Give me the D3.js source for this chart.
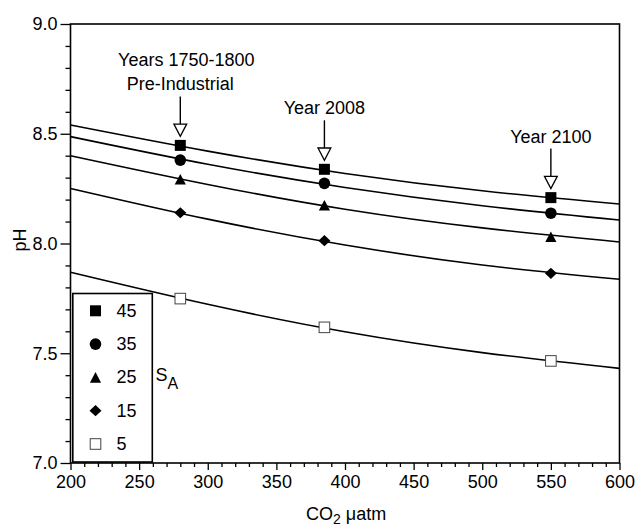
<!DOCTYPE html>
<html><head><meta charset="utf-8">
<script src="https://cdn.jsdelivr.net/npm/d3@7"></script>
<style>
body{margin:0;background:#fff}
text{font-family:"Liberation Sans",Arial,Helvetica,sans-serif;fill:#000}
</style>
</head><body><svg id="c" width="636" height="525"></svg>
<script>
// ---- data ----
const salinities = [45, 35, 25, 15, 5];
const symbolNames = ["square", "circle", "triangle", "diamond", "openSquare"];
const curveX = [200, 300, 400, 500, 600];
const curve45 = [8.540, 8.421, 8.319, 8.240, 8.180];
const curve35 = [8.487, 8.361, 8.255, 8.172, 8.107];
const curve25 = [8.400, 8.269, 8.156, 8.071, 8.007];
const curve15 = [8.251, 8.111, 7.993, 7.902, 7.837];
const curve5  = [7.869, 7.723, 7.598, 7.503, 7.431];
const markerX = [280, 385, 550];
const marker45 = [8.447, 8.338, 8.209];
const marker35 = [8.380, 8.274, 8.138];
const marker25 = [8.293, 8.174, 8.031];
const marker15 = [8.140, 8.013, 7.864];
const marker5  = [7.749, 7.618, 7.465];
const annoX = [280, 385, 550];
const annoText = [["Years 1750-1800", "Pre-Industrial"], ["Year 2008"], ["Year 2100"]];
const xTicks = [200, 250, 300, 350, 400, 450, 500, 550, 600];
const yTicks = [7.0, 7.5, 8.0, 8.5, 9.0];

const curves = [curve45, curve35, curve25, curve15, curve5];
const markers = [marker45, marker35, marker25, marker15, marker5];

// ---- layout ----
const svg = d3.select("#c");
const L = 70.5, R = 619.5, T = 24, B = 463;
const x = d3.scaleLinear().domain([200, 600]).range([L, R]);
const y = d3.scaleLinear().domain([7, 9]).range([B, T]);
const FS = 18;

// minor ticks
const xMinor = d3.range(200, 601, 10).filter(v => v % 50 !== 0);
const yMinor = d3.range(70, 91, 1).map(v => v / 10).filter(v => Math.round(v * 10) % 5 !== 0);

const gx = svg.append("g").attr("transform", `translate(0,${B})`);
gx.call(d3.axisBottom(x).tickValues(xMinor).tickSize(4).tickFormat("").tickSizeOuter(0));
gx.append("g").call(d3.axisBottom(x).tickValues(xTicks).tickSize(7).tickPadding(5).tickSizeOuter(0).tickFormat(d3.format("d")));
const gy = svg.append("g").attr("transform", `translate(${L},0)`);
gy.call(d3.axisLeft(y).tickValues(yMinor).tickSize(5).tickFormat("").tickSizeOuter(0));
gy.append("g").call(d3.axisLeft(y).tickValues(yTicks).tickSize(10).tickPadding(3).tickSizeOuter(0).tickFormat(d3.format(".1f")));
svg.selectAll(".domain").remove();
svg.selectAll(".tick line").attr("stroke", "#000").attr("stroke-width", 1.3);
svg.selectAll(".tick text").attr("font-size", FS).attr("font-family", '"Liberation Sans",Arial,sans-serif').attr("fill", "#000");

// frame
svg.append("rect").attr("x", L).attr("y", T).attr("width", R - L).attr("height", B - T)
  .attr("fill", "none").attr("stroke", "#000").attr("stroke-width", 1.6);

// curves
const line = d3.line().x((d, i) => x(curveX[i])).y(d => y(d)).curve(d3.curveNatural);
svg.append("g").selectAll("path").data(curves).join("path")
  .attr("d", d => line(d)).attr("fill", "none").attr("stroke", "#000").attr("stroke-width", 1.6);

// symbols
function drawSymbol(g, name, cx, cy) {
  if (name === "square") {
    g.append("rect").attr("x", cx - 5.5).attr("y", cy - 5.5).attr("width", 11).attr("height", 11).attr("fill", "#000");
  } else if (name === "circle") {
    g.append("circle").attr("cx", cx).attr("cy", cy).attr("r", 5.8).attr("fill", "#000");
  } else if (name === "triangle") {
    g.append("path").attr("d", `M${cx},${cy - 5.3}L${cx + 5.6},${cy + 5.3}L${cx - 5.6},${cy + 5.3}Z`).attr("fill", "#000");
  } else if (name === "diamond") {
    g.append("path").attr("d", `M${cx},${cy - 5.6}L${cx + 6},${cy}L${cx},${cy + 5.6}L${cx - 6},${cy}Z`).attr("fill", "#000");
  } else {
    g.append("rect").attr("x", cx - 5.3).attr("y", cy - 5.3).attr("width", 10.6).attr("height", 10.6)
      .attr("fill", "#fff").attr("stroke", "#444").attr("stroke-width", 1);
  }
}
const gm = svg.append("g");
markers.forEach((vals, s) => {
  vals.forEach((v, i) => drawSymbol(gm, symbolNames[s], x(markerX[i]), y(v)));
});

// annotations with arrows
const ga = svg.append("g");
annoX.forEach((ax, i) => {
  const cx = x(ax);
  const tip = y(marker45[i]) - 9;
  const headH = 12.3, headW = 6.4;
  const top = tip - 40;
  ga.append("line").attr("x1", cx).attr("x2", cx).attr("y1", top).attr("y2", tip - headH)
    .attr("stroke", "#000").attr("stroke-width", 1.4);
  ga.append("path").attr("d", `M${cx - headW},${tip - headH}L${cx + headW},${tip - headH}L${cx},${tip}Z`)
    .attr("fill", "#fff").attr("stroke", "#000").attr("stroke-width", 1.3);
  const lines = annoText[i];
  lines.forEach((t, k) => {
    const base = top - 6 - (lines.length - 1 - k) * 24.7;
    ga.append("text").attr("x", cx + (lines.length > 1 && k === 0 ? 6 : 0)).attr("y", base)
      .attr("text-anchor", "middle").attr("font-size", FS).text(t);
  });
});

// legend
const lg = svg.append("g");
lg.append("rect").attr("x", 72.8).attr("y", 293.5).attr("width", 79.5).attr("height", 168.5)
  .attr("fill", "#fff").attr("stroke", "#000").attr("stroke-width", 1.6);
salinities.forEach((s, i) => {
  const cy = 310.8 + i * 33.3;
  drawSymbol(lg, symbolNames[i], 95.5, cy);
  lg.append("text").attr("x", 116.5).attr("y", cy + 6).attr("font-size", FS).text(s);
});
const sa = lg.append("text").attr("x", 155.5).attr("y", 380.7).attr("font-size", FS);
sa.append("tspan").text("S");
sa.append("tspan").attr("dy", 8.5).attr("font-size", 16).text("A");

// axis titles
const xt = svg.append("text").attr("x", 306).attr("y", 520).attr("font-size", FS);
xt.append("tspan").text("CO");
xt.append("tspan").attr("dy", 3.5).attr("font-size", 14).text("2");
xt.append("tspan").attr("dy", -3.5).text(" \u03bcatm");
svg.append("text").attr("transform", "translate(26,240) rotate(-90)")
  .attr("text-anchor", "middle").attr("font-size", FS).text("pH");
</script>
</body></html>
